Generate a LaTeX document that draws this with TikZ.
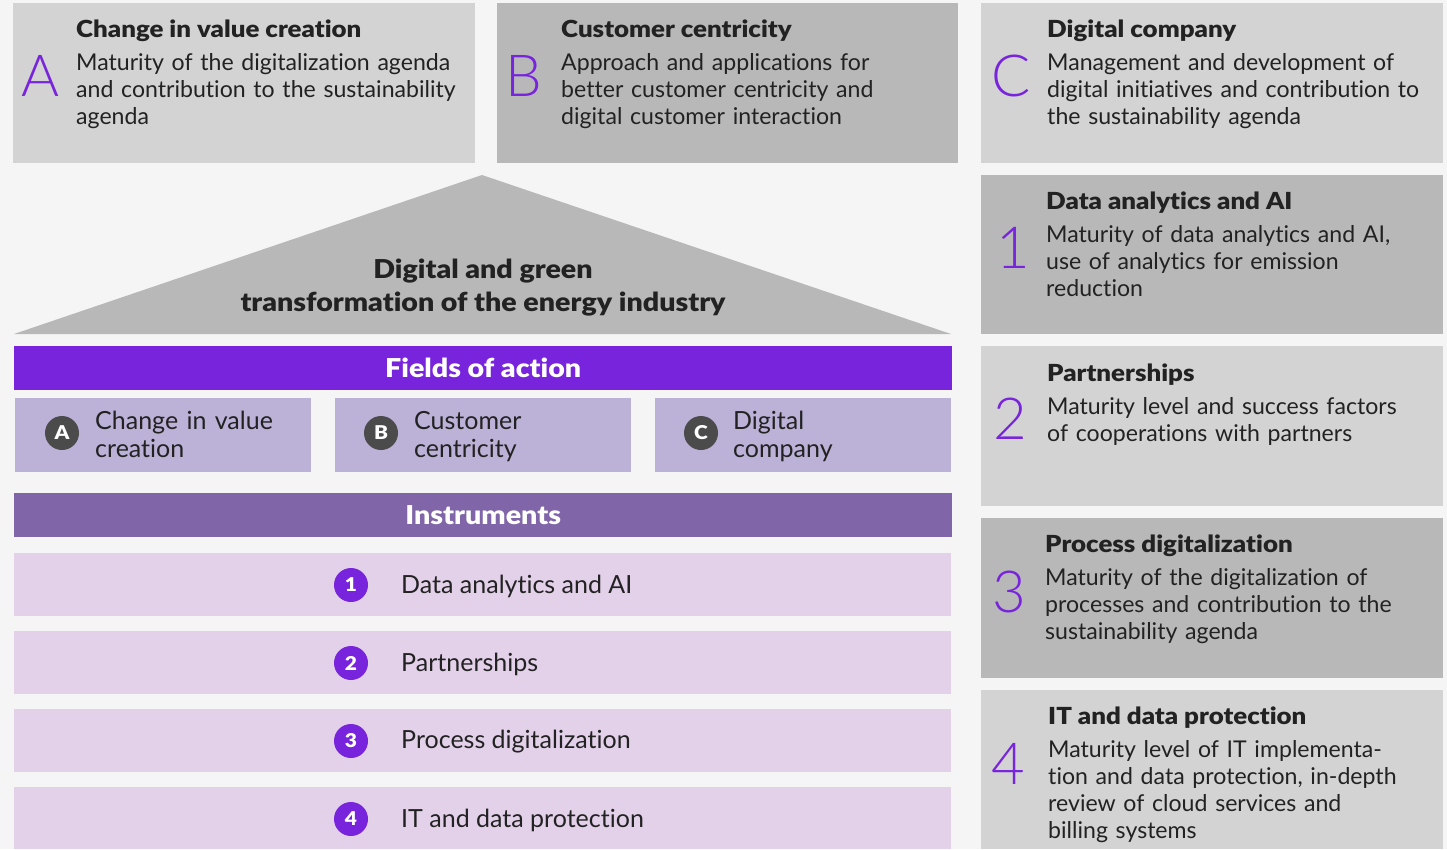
\documentclass[tikz,border=0pt]{standalone}
\usepackage{fontspec}
\setmainfont{Lato}[Ligatures=NoCommon]
\newfontfamily\thinfont{Lato Light}
\newfontfamily\heavyfont{Lato Black}[Ligatures=NoCommon,FakeStretch=1.1]

\definecolor{bggray}{HTML}{F5F5F5}
\definecolor{lightpanel}{HTML}{D3D3D3}
\definecolor{darkpanel}{HTML}{B8B8B8}
\definecolor{accpurple}{HTML}{7823DC}
\definecolor{lavender}{HTML}{BCB1D7}
\definecolor{instrpurple}{HTML}{8066A8}
\definecolor{rowpink}{HTML}{E3D1EA}
\definecolor{circgray}{HTML}{4B4B4B}
\definecolor{inkblack}{HTML}{222222}

\tikzset{
  panel/.style={inner sep=0pt, anchor=north west, draw=none},
  title/.style={anchor=base west, inner sep=0pt, text=inkblack, font=\heavyfont\fontsize{23.5}{27}\selectfont},
  body/.style={anchor=base west, inner sep=0pt, text=inkblack, align=left, text width=410pt, font=\fontsize{23.1}{27}\selectfont},
  bigletter/.style={inner sep=0pt, text=accpurple, font=\thinfont\fontsize{58}{58}\selectfont},
  barlabel/.style={inner sep=0pt, text=white, font=\heavyfont\fontsize{26}{30}\selectfont},
  lettercirc/.style={circle, fill=circgray, minimum size=34pt, inner sep=0pt, text=white, font=\heavyfont\fontsize{19}{19}\selectfont},
  numcirc/.style={circle, fill=accpurple, minimum size=34pt, inner sep=0pt, text=white, font=\heavyfont\fontsize{19}{19}\selectfont},
  fieldtext/.style={anchor=base west, inner sep=0pt, text=inkblack, align=left, text width=200pt, font=\fontsize{25}{28}\selectfont},
  rowtext/.style={anchor=west, inner sep=0pt, text=inkblack, font=\fontsize{25}{28}\selectfont}
}

\begin{document}
\begin{tikzpicture}[x=1pt,y=-1pt]
\useasboundingbox (0,0) rectangle (1447,849);
\fill[bggray] (0,0) rectangle (1447,849);

% top row
\node[panel,fill=lightpanel,minimum width=462pt,minimum height=160pt] (boxA) at (13,3) {};
\node[panel,fill=darkpanel,minimum width=461pt,minimum height=160pt] (boxB) at (497,3) {};
\node[panel,fill=lightpanel,minimum width=462pt,minimum height=160pt] (boxC) at (981,3) {};

\node[bigletter] (letA) at (41,76) {A};
\node[title] (titA) at (76,37) {Change in value creation};
\node[body] (txtA) at (76,70) {Maturity of the digitalization agenda\\and contribution to the sustainability\\agenda};

\node[bigletter] (letB) at (524,76) {B};
\node[title] (titB) at (561,37) {Customer centricity};
\node[body] (txtB) at (561,70) {Approach and applications for\\better customer centricity and\\digital customer interaction};

\node[bigletter] (letC) at (1011,76) {C};
\node[title] (titC) at (1047,37) {Digital company};
\node[body] (txtC) at (1047,70) {Management and development of\\digital initiatives and contribution to\\the sustainability agenda};

% roof
\fill[darkpanel] (482,175) coordinate (apex) -- (951,334) coordinate (eaveR) -- (14,334) coordinate (eaveL) -- cycle;
\node[inner sep=0pt, align=center, text=inkblack, font=\heavyfont\fontsize{26}{33}\selectfont] (roof) at (483,288) {Digital and green\\transformation of the energy industry};

% fields of action
\node[panel,fill=accpurple,minimum width=938pt,minimum height=44pt] (fields) at (14,346) {};
\node[barlabel] (fieldsLbl) at (fields.center) {Fields of action};

\node[panel,fill=lavender,minimum width=296pt,minimum height=74pt] (fA) at (15,398) {};
\node[panel,fill=lavender,minimum width=296pt,minimum height=74pt] (fB) at (335,398) {};
\node[panel,fill=lavender,minimum width=296pt,minimum height=74pt] (fC) at (655,398) {};

\node[lettercirc] (cA) at (62,433) {A};
\node[fieldtext] (tA) at (95,429) {Change in value\\creation};
\node[lettercirc] (cB) at (381,433) {B};
\node[fieldtext] (tB) at (414,429) {Customer\\centricity};
\node[lettercirc] (cC) at (701,433) {C};
\node[fieldtext] (tC) at (733,429) {Digital\\company};

% instruments
\node[panel,fill=instrpurple,minimum width=938pt,minimum height=44pt] (instr) at (14,493) {};
\node[barlabel] (instrLbl) at (instr.center) {Instruments};

\node[panel,fill=rowpink,minimum width=937pt,minimum height=63pt] (row1) at (14,553) {};
\node[panel,fill=rowpink,minimum width=937pt,minimum height=63pt] (row2) at (14,631) {};
\node[panel,fill=rowpink,minimum width=937pt,minimum height=63pt] (row3) at (14,709) {};
\node[panel,fill=rowpink,minimum width=937pt,minimum height=62pt] (row4) at (14,787) {};

\node[numcirc] (n1) at (351,585) {1};
\node[rowtext] (r1) at (401,586) {Data analytics and AI};
\node[numcirc] (n2) at (351,663) {2};
\node[rowtext] (r2) at (401,664) {Partnerships};
\node[numcirc] (n3) at (351,741) {3};
\node[rowtext] (r3) at (401,742) {Process digitalization};
\node[numcirc] (n4) at (351,819) {4};
\node[rowtext] (r4) at (401,820) {IT and data protection};

% right column
\node[panel,fill=darkpanel,minimum width=462pt,minimum height=159pt] (box1) at (981,175) {};
\node[panel,fill=lightpanel,minimum width=462pt,minimum height=160pt] (box2) at (981,346) {};
\node[panel,fill=darkpanel,minimum width=462pt,minimum height=160pt] (box3) at (981,518) {};
\node[panel,fill=lightpanel,minimum width=462pt,minimum height=159pt] (box4) at (981,690) {};

\node[bigletter] (dig1) at (1013,248) {1};
\node[title] (tit1) at (1046,209) {Data analytics and AI};
\node[body] (txt1) at (1046,242) {Maturity of data analytics and AI,\\use of analytics for emission\\reduction};

\node[bigletter] (dig2) at (1010,419) {2};
\node[title] (tit2) at (1047,381) {Partnerships};
\node[body] (txt2) at (1047,414) {Maturity level and success factors\\of cooperations with partners};

\node[bigletter] (dig3) at (1009,592) {3};
\node[title] (tit3) at (1045,552) {Process digitalization};
\node[body] (txt3) at (1045,585) {Maturity of the digitalization of\\processes and contribution to the\\sustainability agenda};

\node[bigletter] (dig4) at (1008,764) {4};
\node[title] (tit4) at (1048,724) {IT and data protection};
\node[body] (txt4) at (1048,757) {Maturity level of IT implementa-\\tion and data protection, in-depth\\review of cloud services and\\billing systems};
\end{tikzpicture}
\end{document}
